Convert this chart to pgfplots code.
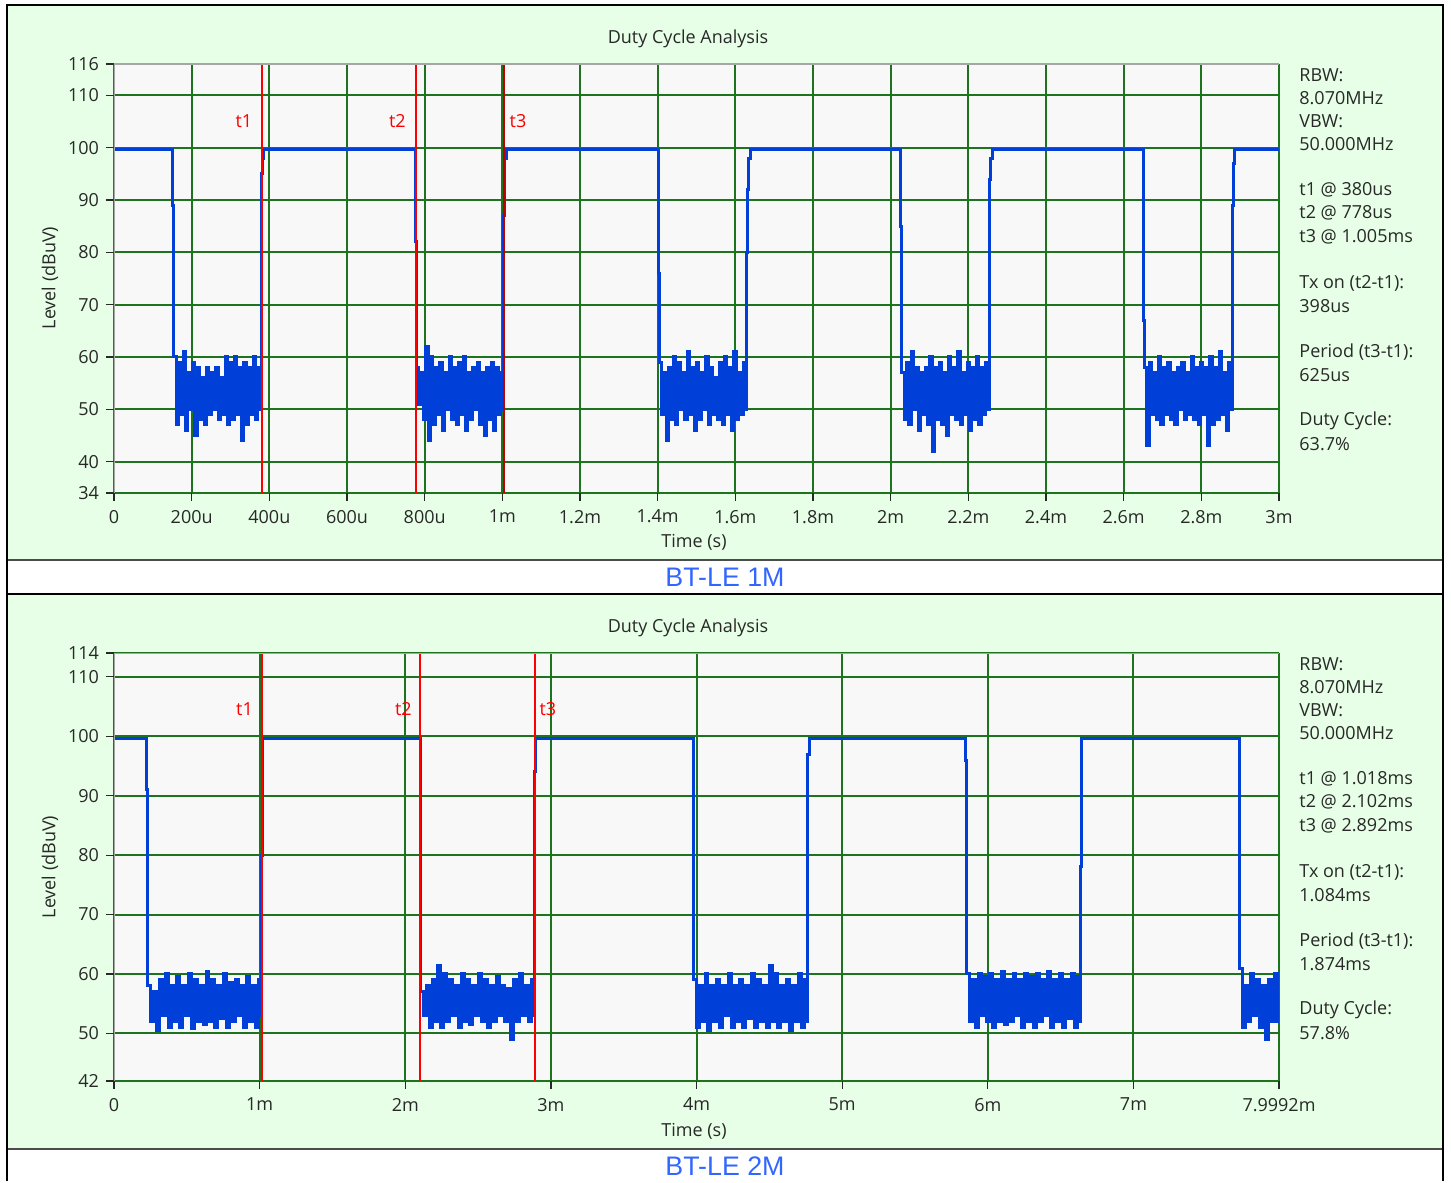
\documentclass[border=0pt]{standalone}
\usepackage{fontspec}
\setmainfont{Open Sans}
\newfontfamily\capfont{Liberation Sans}
\usepackage{pgfplots}
\pgfplotsset{compat=1.18}

\definecolor{panelgreen}{RGB}{230,255,230}
\definecolor{plotbg}{RGB}{248,248,248}
\definecolor{gridgreen}{RGB}{30,115,30}
\definecolor{traceblue}{RGB}{0,64,216}
\definecolor{capblue}{RGB}{51,102,255}
\definecolor{txt}{RGB}{40,40,40}

\newcommand{\uifont}{\fontsize{9}{10}\selectfont}
\newcommand{\info}[2]{\node[anchor=west, font=\uifont, text=txt, inner sep=0pt] at (1299,#1) {#2};}
\tikzset{tlab/.style={red, font=\uifont, inner sep=0pt}}

\pgfplotsset{dc/.style={
  scale only axis, anchor=north west,
  width=582.5pt,
  axis background/.style={fill=plotbg},
  axis line style={draw=none},
  grid=major, major grid style={gridgreen, line width=1pt},
  tick align=outside, major tick length=4pt,
  xtick pos=bottom, ytick pos=left,
  tick style={txt, line width=0.6pt},
  every tick label/.append style={font=\uifont, text=txt},
  xticklabel style={yshift=-1pt},
  dcline/.style={const plot, traceblue, line width=1.5pt},
  cursor/.style={red, line width=1pt},
}}

\begin{document}
\begin{tikzpicture}[x=0.5pt,y=-0.5pt]
\fill[white] (0,0) rectangle (1451,1181);
\fill[panelgreen] (8,6) rectangle (1442,560);
\fill[panelgreen] (8,595) rectangle (1442,1149);
\draw[gray!60!black, line width=1pt] (8,560) -- (1442,560);
\draw[gray!60!black, line width=1pt] (8,1149) -- (1442,1149);
\draw[black, line width=1pt] (7,1181) -- (7,5) -- (1443,5) -- (1443,1181);
\draw[black, line width=1.2pt] (7,594) -- (1443,594);

% ---------------- BT-LE 1M ----------------
\begin{axis}[dc, at={(57pt,-32pt)}, height=214.5pt,
  xmin=0, xmax=3000, ymin=34, ymax=116,
  xtick={0,200,...,3000},
  xticklabels={0,200u,400u,600u,800u,1m,1.2m,1.4m,1.6m,1.8m,2m,2.2m,2.4m,2.6m,2.8m,3m},
  ytick={34,40,50,60,70,80,90,100,110,116},
  yticklabels={34,40,50,60,70,80,90,100,110,116}]
\addplot[dcline] coordinates {
(0,99.6) (151,89)
(154,60) (160,47) (166,59) (172,49) (178,61) (184,46) (190,57) (196,50) (202,59) (208,45)
(214,58) (220,48) (226,56) (232,47) (238,58) (244,49) (250,57) (256,50) (262,58) (268,48)
(274,56) (280,49) (286,60) (292,47) (298,59) (304,48) (310,60) (316,49) (322,58) (328,44)
(334,59) (340,47) (346,58) (352,49) (358,60) (364,48) (370,58) (376,50)
(379,85) (381,95) (383,98) (386,99.6) (777,82)
(779,58) (785,51) (791,57) (797,48) (803,62) (809,44) (815,60) (821,47) (827,58) (833,49)
(839,59) (845,46) (851,57) (857,50) (863,60) (869,48) (875,58) (881,47) (887,59) (893,49)
(899,60) (905,46) (911,57) (917,48) (923,58) (929,50) (935,59) (941,47) (947,57) (953,45)
(959,58) (965,48) (971,59) (977,46) (983,58) (989,49) (995,57) (1001,50)
(1004,87) (1006,98) (1010,99.6) (1401,76)
(1404,59) (1410,49) (1416,57) (1422,44) (1428,58) (1434,48) (1440,60) (1446,47) (1452,59) (1458,50)
(1464,57) (1470,48) (1476,61) (1482,49) (1488,58) (1494,46) (1500,59) (1506,48) (1512,57) (1518,50)
(1524,60) (1530,47) (1536,58) (1542,49) (1548,56) (1554,48) (1560,59) (1566,47) (1572,60) (1578,49)
(1584,58) (1590,46) (1596,61) (1602,48) (1608,57) (1614,49) (1620,59) (1626,50)
(1629,80) (1632,92) (1635,98) (1640,99.6) (2026,85)
(2029,57) (2035,48) (2041,59) (2047,47) (2053,61) (2059,50) (2065,58) (2071,46) (2077,57) (2083,49)
(2089,58) (2095,47) (2101,60) (2107,42) (2113,58) (2119,48) (2125,59) (2131,47) (2137,57) (2143,45)
(2149,60) (2155,49) (2161,58) (2167,48) (2173,61) (2179,47) (2185,57) (2191,49) (2197,59) (2203,46)
(2209,58) (2215,48) (2221,60) (2227,47) (2233,58) (2239,49) (2245,59) (2251,50)
(2254,94) (2257,98) (2262,99.6) (2651,67)
(2654,58) (2660,43) (2666,59) (2672,49) (2678,57) (2684,48) (2690,60) (2696,47) (2702,58) (2708,49)
(2714,59) (2720,48) (2726,57) (2732,47) (2738,58) (2744,50) (2750,59) (2756,48) (2762,57) (2768,49)
(2774,60) (2780,48) (2786,58) (2792,47) (2798,59) (2804,49) (2810,58) (2816,43) (2822,60) (2828,47)
(2834,58) (2840,48) (2846,61) (2852,49) (2858,57) (2864,46) (2870,59) (2876,50)
(2879,89) (2882,97) (2886,99.6) (3000,99.6)};
\addplot[cursor] coordinates {(380,34) (380,116)};
\addplot[cursor] coordinates {(778,34) (778,116)};
\addplot[cursor, red!75!black] coordinates {(1005,34) (1005,116)};
\node[tlab, anchor=east, xshift=-4.5pt] at (axis cs:380,105) {t1};
\node[tlab, anchor=east, xshift=-5pt] at (axis cs:778,105) {t2};
\node[tlab, anchor=west, xshift=2.5pt] at (axis cs:1005,105) {t3};
\draw[gray!70, line width=0.8pt] (rel axis cs:0,0) -- (rel axis cs:0,1) -- (rel axis cs:1,1);
\end{axis}

% ---------------- BT-LE 2M ----------------
\begin{axis}[dc, at={(57pt,-326.5pt)}, height=214pt,
  xmin=0, xmax=7.9992, ymin=42, ymax=114,
  xtick={0,1,2,3,4,5,6,7,7.9992},
  xticklabels={0,1m,2m,3m,4m,5m,6m,7m,7.9992m},
  ytick={42,50,60,70,80,90,100,110,114},
  yticklabels={42,50,60,70,80,90,100,110,114}]
\addplot[dcline] coordinates {
(0,99.6) (0.222,91)
(0.232,58) (0.252,52) (0.272,57) (0.292,50.5) (0.312,59) (0.332,53) (0.352,60) (0.372,51) (0.392,58) (0.412,52)
(0.432,59.5) (0.452,51) (0.472,58) (0.492,53) (0.512,60) (0.532,50.8) (0.552,59) (0.572,52) (0.592,58) (0.612,51.5)
(0.632,60.5) (0.652,52) (0.672,59) (0.692,51) (0.712,58) (0.732,52.5) (0.752,60) (0.772,51) (0.792,58.5) (0.812,52)
(0.832,59) (0.852,53) (0.872,58) (0.892,51) (0.912,59.5) (0.932,52) (0.952,58) (0.972,51) (0.992,59) (1.012,53)
(1.014,80) (1.020,99.6)
(2.104,57) (2.124,53) (2.144,58) (2.164,51) (2.184,59) (2.204,52) (2.224,61.5) (2.244,51) (2.264,60) (2.284,52)
(2.304,59) (2.324,53) (2.344,58) (2.364,51) (2.384,60) (2.404,52) (2.424,59) (2.444,51.5) (2.464,58) (2.484,53)
(2.504,60) (2.524,52) (2.544,59) (2.564,51) (2.584,58) (2.604,52) (2.624,59.5) (2.644,53) (2.664,58) (2.684,52)
(2.704,57.5) (2.724,49) (2.744,59) (2.764,52) (2.784,60) (2.804,53) (2.824,58) (2.844,52) (2.864,59) (2.884,53)
(2.888,94) (2.896,99.6)
(3.978,59) (3.998,51) (4.018,58) (4.038,52) (4.058,60) (4.078,50.5) (4.098,58) (4.118,52) (4.138,59) (4.158,51)
(4.178,58) (4.198,53) (4.218,60) (4.238,51) (4.258,58) (4.278,52) (4.298,59) (4.318,51) (4.338,58) (4.358,52.5)
(4.378,60) (4.398,51) (4.418,59) (4.438,52) (4.458,58) (4.478,51) (4.498,61.5) (4.518,52) (4.538,60) (4.558,51)
(4.578,58) (4.598,52) (4.618,59) (4.638,50.5) (4.658,58) (4.678,52) (4.698,60) (4.718,51) (4.738,59) (4.758,52)
(4.764,97) (4.776,99.6) (5.846,96)
(5.853,60) (5.873,52) (5.893,59) (5.913,51) (5.933,60) (5.953,53) (5.973,59.5) (5.993,52) (6.013,60) (6.033,51)
(6.053,59) (6.073,52) (6.093,60.5) (6.113,51.5) (6.133,59) (6.153,52) (6.173,60) (6.193,53) (6.213,59) (6.233,51)
(6.253,60) (6.273,52) (6.293,59.5) (6.313,51) (6.333,60) (6.353,52) (6.373,59) (6.393,53) (6.413,60.5) (6.433,51)
(6.453,59) (6.473,52) (6.493,60) (6.513,51) (6.533,59) (6.553,52.5) (6.573,60) (6.593,51) (6.613,59.5) (6.633,52)
(6.637,78) (6.645,99.6)
(7.726,61) (7.746,51) (7.766,58) (7.786,52) (7.806,60) (7.826,53) (7.846,59) (7.866,51) (7.886,58) (7.906,49)
(7.926,59) (7.946,52) (7.966,60) (7.986,52) (7.9992,52)};
\addplot[cursor] coordinates {(1.018,42) (1.018,114)};
\addplot[cursor] coordinates {(2.102,42) (2.102,114)};
\addplot[cursor] coordinates {(2.892,42) (2.892,114)};
\node[tlab, anchor=east, xshift=-4.5pt] at (axis cs:1.018,104.6) {t1};
\node[tlab, anchor=east, xshift=-4pt] at (axis cs:2.102,104.6) {t2};
\node[tlab, anchor=west, xshift=2pt] at (axis cs:2.892,104.6) {t3};
\draw[gray!70, line width=0.8pt] (rel axis cs:0,0) -- (rel axis cs:0,1) -- (rel axis cs:1,1);
\end{axis}

% titles, axis labels, captions
\node[font=\uifont, text=txt] at (688,39) {Duty Cycle Analysis};
\node[font=\uifont, text=txt] at (688,628) {Duty Cycle Analysis};
\node[font=\uifont, text=txt] at (694,542) {Time (s)};
\node[font=\uifont, text=txt] at (694,1131) {Time (s)};
\node[font=\uifont, text=txt, rotate=90] at (50,278) {Level (dBuV)};
\node[font=\uifont, text=txt, rotate=90] at (50,867) {Level (dBuV)};
\node[font=\capfont\fontsize{13.4}{15}\selectfont, text=capblue] at (725,577) {BT-LE 1M};
\node[font=\capfont\fontsize{13.4}{15}\selectfont, text=capblue] at (725,1166) {BT-LE 2M};

% measurement readouts
\info{75}{RBW:}
\info{98}{8.070MHz}
\info{121}{VBW:}
\info{144}{50.000MHz}
\info{190}{t1 @ 380us}
\info{213}{t2 @ 778us}
\info{237}{t3 @ 1.005ms}
\info{283}{Tx on (t2-t1):}
\info{306}{398us}
\info{352}{Period (t3-t1):}
\info{375}{625us}
\info{421}{Duty Cycle:}
\info{444}{63.7\%}

\info{664}{RBW:}
\info{687}{8.070MHz}
\info{710}{VBW:}
\info{733}{50.000MHz}
\info{779}{t1 @ 1.018ms}
\info{802}{t2 @ 2.102ms}
\info{826}{t3 @ 2.892ms}
\info{872}{Tx on (t2-t1):}
\info{895}{1.084ms}
\info{941}{Period (t3-t1):}
\info{964}{1.874ms}
\info{1010}{Duty Cycle:}
\info{1033}{57.8\%}
\end{tikzpicture}
\end{document}
